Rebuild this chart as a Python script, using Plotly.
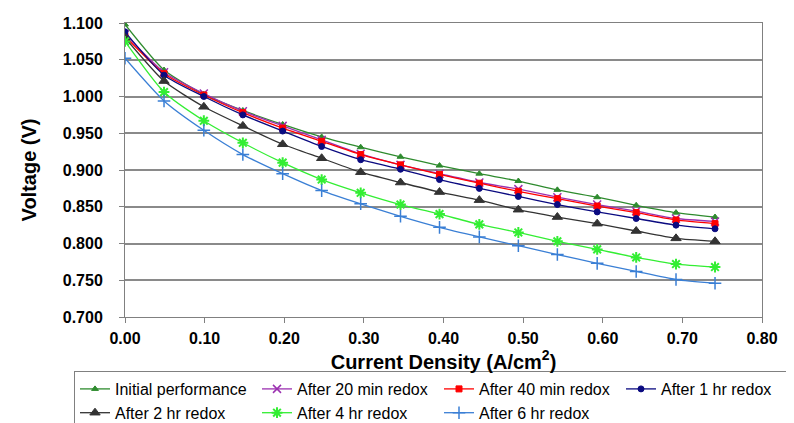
import plotly.graph_objects as go

current_density = [0.0, 0.049, 0.099, 0.148, 0.198, 0.247, 0.296, 0.346, 0.395,
                   0.445, 0.494, 0.543, 0.593, 0.642, 0.692, 0.741]

initial_performance = [1.098, 1.036, 1.003, 0.981, 0.962, 0.945, 0.931, 0.918, 0.906,
                       0.895, 0.885, 0.873, 0.863, 0.852, 0.842, 0.836]
after_20min = [1.085, 1.033, 1.004, 0.980, 0.960, 0.941, 0.922, 0.907, 0.895,
               0.883, 0.874, 0.863, 0.853, 0.844, 0.834, 0.830]
after_40min = [1.082, 1.031, 1.002, 0.978, 0.957, 0.939, 0.921, 0.907, 0.894,
               0.882, 0.871, 0.861, 0.851, 0.842, 0.832, 0.827]
after_1hr = [1.088, 1.029, 1.000, 0.975, 0.953, 0.932, 0.914, 0.901, 0.887,
             0.875, 0.864, 0.853, 0.843, 0.834, 0.825, 0.820]
after_2hr = [1.080, 1.021, 0.986, 0.960, 0.935, 0.916, 0.897, 0.883, 0.870,
             0.859, 0.846, 0.836, 0.827, 0.817, 0.807, 0.803]
after_4hr = [1.075, 1.006, 0.967, 0.937, 0.910, 0.887, 0.869, 0.853, 0.840,
             0.826, 0.815, 0.803, 0.792, 0.781, 0.772, 0.768]
after_6hr = [1.052, 0.994, 0.954, 0.921, 0.895, 0.872, 0.854, 0.837, 0.822,
             0.809, 0.797, 0.785, 0.773, 0.762, 0.751, 0.746]

series = [
    ("Initial performance", initial_performance, "#2E8B2E", "triangle-up", 6, 1),
    ("After 20 min redox", after_20min, "#9B30B0", "x-thin-open", 8, 1.5),
    ("After 40 min redox", after_40min, "#FF0000", "square", 6, 1),
    ("After 1 hr redox", after_1hr, "#0A0A80", "circle", 6, 1),
    ("After 2 hr redox", after_2hr, "#333333", "triangle-up", 9, 1),
    ("After 4 hr redox", after_4hr, "#33EE33", "asterisk-open", 9, 2),
    ("After 6 hr redox", after_6hr, "#3A7FD5", "cross-thin-open", 9, 1.5),
]

FONT = "Liberation Sans, Arial, sans-serif"

fig = go.Figure()
for name, ys, color, sym, size, lw in series:
    fig.add_trace(go.Scatter(
        x=current_density, y=ys, name=name, mode="lines+markers",
        line=dict(color=color, width=1.3, shape="spline", smoothing=0.6),
        marker=dict(symbol=sym, size=size, color=color, line=dict(color=color, width=lw)),
    ))

fig.update_layout(
    width=794, height=423,
    margin=dict(l=117, r=40, t=15, b=114, autoexpand=False),
    paper_bgcolor="white", plot_bgcolor="white",
    font=dict(family=FONT, color="black"),
    showlegend=True,
    legend=dict(
        orientation="h", xref="paper", yref="paper",
        x=(66 - 117) / 637, xanchor="left",
        y=(309 - 363) / 294, yanchor="top",
        font=dict(size=16, family=FONT),
        bordercolor="#808080", borderwidth=1, bgcolor="white",
        entrywidth=137, entrywidthmode="pixels", itemwidth=30,
        tracegroupgap=0,
    ),
)

fig.update_xaxes(
    range=[0, 0.8], tick0=0, dtick=0.1, tickformat=".2f",
    ticks="outside", ticklen=5, tickcolor="#808080",
    showline=True, linecolor="#808080", linewidth=1, mirror=True,
    showgrid=False, zeroline=False,
    tickfont=dict(size=16, family=FONT),
    ticklabelstandoff=2,
    tickprefix="<b>", ticksuffix="</b>",
    title=dict(text="<b>Current Density (A/cm<sup>2</sup>)</b>", standoff=5,
               font=dict(size=20, family=FONT)),
    automargin=False,
)
fig.update_yaxes(
    range=[0.7, 1.1], tick0=0.7, dtick=0.05, tickformat=".3f",
    ticks="outside", ticklen=5, tickcolor="#808080",
    showline=True, linecolor="#808080", linewidth=1, mirror=True,
    showgrid=True, gridcolor="#8a8a8a", gridwidth=1.5, zeroline=False,
    tickfont=dict(size=16, family=FONT),
    ticklabelstandoff=13,
    tickprefix="<b>", ticksuffix="</b>",
    title=dict(text="<b>Voltage (V)</b>", standoff=20, font=dict(size=20, family=FONT)),
    automargin=False,
)

fig.write_html("out.html")
